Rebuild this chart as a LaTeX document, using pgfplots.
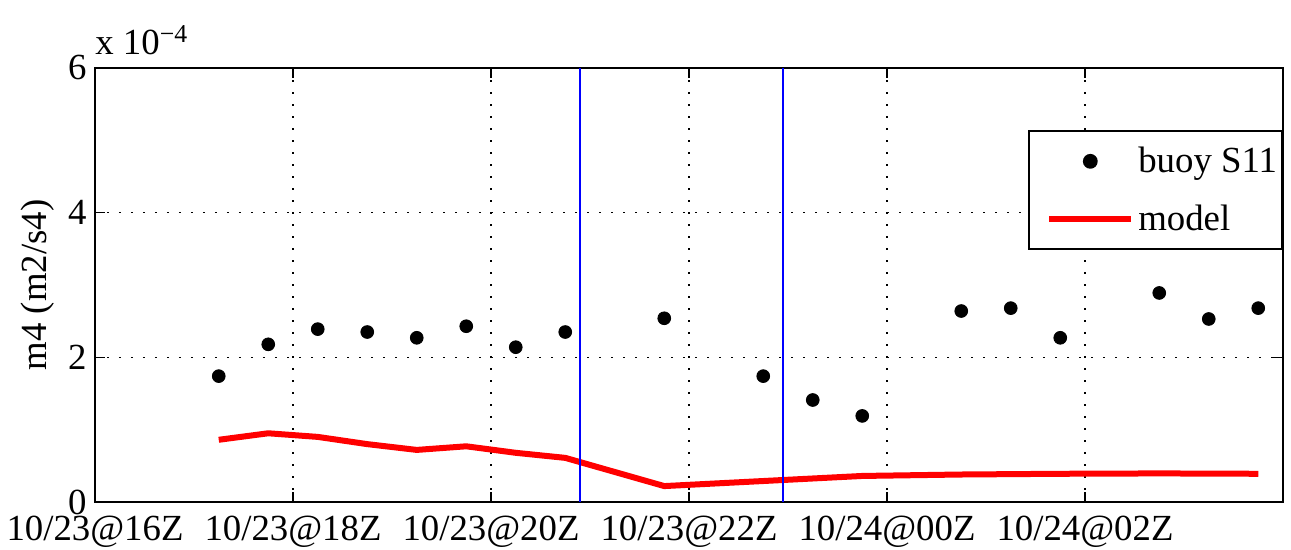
\documentclass[border=0pt]{standalone}
\usepackage{fontspec}
\setmainfont{Liberation Serif}
\usepackage{pgfplots}
\pgfplotsset{compat=1.18}
\usetikzlibrary{calc}

\newcommand{\fs}{\fontsize{18.4}{22}\selectfont}

\begin{document}
\begin{tikzpicture}
\begin{axis}[
  scale only axis,
  width=594pt, height=217pt,
  xmin=16, xmax=28, ymin=0, ymax=6,
  xtick={16,18,20,22,24,26},
  xticklabels={10/23@16Z,10/23@18Z,10/23@20Z,10/23@22Z,10/24@00Z,10/24@02Z},
  ytick={0,2,4,6},
  /pgf/number format/assume math mode=true,
  tick label style={font=\fs},
  xticklabel style={anchor=north, inner sep=0pt, yshift=-7pt},
  yticklabel style={anchor=east, inner sep=0pt, xshift=-4pt},
  tick align=inside,
  major tick length=5pt,
  tick style={black, line width=0.6pt},
  axis line style={black, line width=1pt},
  grid=major,
  grid style={black, line width=0.6pt, dash pattern=on 0.8pt off 5.2pt},
  ylabel={m4 (m2/s4)},
  ylabel style={font=\fs, at={(axis description cs:-0.048,0.5)}, anchor=center},
  clip=false,
  legend style={at={(1,0.857)}, anchor=north east, draw=black, line width=1pt,
    font=\fs, inner xsep=2.5pt, inner ysep=8pt, row sep=14.5pt,
    nodes={inner sep=0pt}, column sep=2pt},
  legend cell align=left,
  legend image code/.code={
    \path (0pt,0pt);
    \draw[mark repeat=2, mark phase=2, #1] plot coordinates {(6pt,0pt) (26.5pt,0pt) (47pt,0pt)};
  },
]

% buoy S11 observations (units of 1e-4 m2/s4)
\addplot[only marks, mark=*, mark size=3.2pt, black, mark options={fill=black}]
  coordinates {
  (17.25,1.74) (17.75,2.18) (18.25,2.39) (18.75,2.35) (19.25,2.27)
  (19.75,2.43) (20.25,2.14) (20.75,2.35) (21.75,2.54) (22.75,1.74)
  (23.25,1.41) (23.75,1.19) (24.75,2.64) (25.25,2.68) (25.75,2.27)
  (26.75,2.89) (27.25,2.53) (27.75,2.68)
  };
\addlegendentry{buoy S11}

% model
\addplot[red, line width=3pt, no marks]
  coordinates {
  (17.25,0.86) (17.75,0.95) (18.25,0.90) (18.75,0.80) (19.25,0.72)
  (19.75,0.77) (20.25,0.68) (20.75,0.61) (21.75,0.22) (22.75,0.29)
  (23.75,0.36) (24.75,0.38) (25.75,0.39) (26.75,0.395) (27.75,0.39)
  };
\addlegendentry{model}

% time window markers
\addplot[blue, line width=1.2pt, forget plot] coordinates {(20.9,0) (20.9,6)};
\addplot[blue, line width=1.2pt, forget plot] coordinates {(22.95,0) (22.95,6)};

\node[anchor=base west, inner sep=0pt, font=\fs] at (rel axis cs:0,1) [yshift=6.5pt] {x 10\textsuperscript{−4}};
\end{axis}
\path ($(current axis.south west)+(-47.5pt,-24pt)$) rectangle ($(current axis.north east)+(4pt,34pt)$);
\end{tikzpicture}
\end{document}
